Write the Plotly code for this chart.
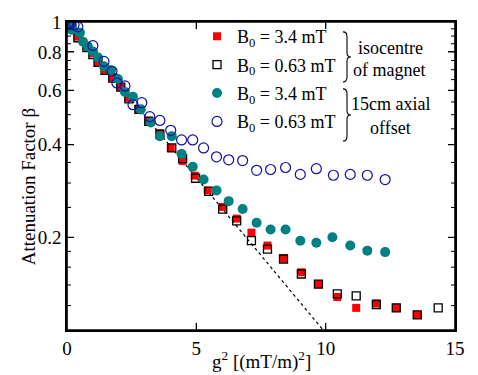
import math
import plotly.graph_objects as go

# ---- data ----
red_x = [0.04, 0.12, 0.42, 0.77, 1.00, 1.20, 1.50, 1.77, 2.08, 2.39, 2.78, 3.16, 3.59, 4.01, 4.47,
         4.94, 5.44, 6.02, 6.56, 7.13, 7.75, 8.37, 9.06, 9.72, 10.45, 11.18, 11.96, 12.73, 13.54]
red_y = [0.985, 0.971, 0.896, 0.832, 0.790, 0.740, 0.697, 0.662, 0.615, 0.567, 0.520, 0.479, 0.435, 0.390, 0.354,
         0.317, 0.284, 0.251, 0.230, 0.207, 0.188, 0.171, 0.154, 0.141, 0.128, 0.118, 0.122, 0.118, 0.112]

blk_x = [0.04, 0.19, 0.42, 0.77, 1.00, 1.20, 1.47, 1.77, 2.08, 2.39, 2.78, 3.16, 3.59, 4.05, 4.47,
         4.97, 5.48, 6.02, 6.56, 7.13, 7.75, 8.37, 9.06, 9.72, 10.45, 11.18, 11.96, 12.73, 13.54, 14.35]
blk_y = [0.985, 0.957, 0.889, 0.826, 0.784, 0.740, 0.697, 0.658, 0.615, 0.563, 0.520, 0.476, 0.432, 0.390, 0.360,
         0.311, 0.282, 0.247, 0.226, 0.195, 0.183, 0.170, 0.152, 0.141, 0.131, 0.129, 0.121, 0.118, 0.112, 0.118]

teal_x = [0.04, 0.19, 0.50, 0.62, 0.81, 1.00, 1.20, 1.43, 1.70, 1.97, 2.24, 2.55, 2.85, 3.24, 3.59, 4.05,
          4.43, 4.86, 5.28, 5.78, 6.25, 6.79, 7.33, 7.87, 8.45, 9.02, 9.64, 10.26, 10.95, 11.61, 12.30]
teal_y = [0.985, 0.943, 0.922, 0.863, 0.832, 0.802, 0.767, 0.718, 0.697, 0.653, 0.593, 0.572, 0.520, 0.472, 0.426, 0.426,
          0.373, 0.339, 0.308, 0.284, 0.262, 0.247, 0.223, 0.212, 0.212, 0.195, 0.192, 0.200, 0.188, 0.181, 0.179]

blue_x = [0.04, 0.12, 0.27, 0.42, 1.00, 1.43, 1.74, 1.93, 2.24, 2.55, 2.89, 3.20, 3.59, 4.01, 4.43,
          4.86, 5.28, 5.78, 6.25, 6.79, 7.33, 7.87, 8.45, 9.02, 9.64, 10.30, 10.95, 11.61, 12.30]
blue_y = [0.993, 0.985, 0.978, 0.964, 0.838, 0.745, 0.692, 0.634, 0.620, 0.539, 0.547, 0.493, 0.479, 0.445, 0.414,
          0.414, 0.390, 0.365, 0.357, 0.355, 0.330, 0.332, 0.337, 0.320, 0.334, 0.318, 0.320, 0.318, 0.308]

fit_x = [0.0, 9.9]
fit_y = [1.0, 0.1]

x_range = [0, 15]
y_range_log = [-1, 0]
x_ticks = [0, 5, 10, 15]
y_ticks = [0.2, 0.4, 0.6, 0.8, 1.0]
y_ticktext = ["0.2", "0.4", "0.6", "0.8", "1"]
y_minor = [0.12, 0.14, 0.16, 0.18, 0.25, 0.3, 0.35, 0.45, 0.5, 0.55, 0.65, 0.7, 0.75, 0.85, 0.9, 0.95]

labels = ["B<sub>0</sub> = 3.4 mT", "B<sub>0</sub> = 0.63 mT", "B<sub>0</sub> = 3.4 mT", "B<sub>0</sub> = 0.63 mT"]

FONT = "Liberation Serif, Times New Roman, serif"
W, H = 478, 375
L, R, T, B = 67, 23, 17, 45
PW, PH = W - L - R, H - T - B


def px(x):
    return (x - L) / PW


def py(y):
    return (H - B - y) / PH


def xp(v):  # x data -> paper
    return (v - x_range[0]) / (x_range[1] - x_range[0])


def yp(v):  # y data (log axis) -> paper
    return (math.log10(v) - y_range_log[0]) / (y_range_log[1] - y_range_log[0])


fig = go.Figure()
fig.add_trace(go.Scatter(x=fit_x, y=fit_y, mode="lines", showlegend=False,
                         line=dict(color="black", width=1.2, dash="dot")))
fig.add_trace(go.Scatter(x=red_x, y=red_y, mode="markers", name=labels[0], legendgroup="a",
                         marker=dict(symbol="square", size=8, color="#ff0000", line=dict(width=0))))
fig.add_trace(go.Scatter(x=blk_x, y=blk_y, mode="markers", name=labels[1], legendgroup="b",
                         marker=dict(symbol="square-open", size=8, color="black", line=dict(width=1.3))))
fig.add_trace(go.Scatter(x=teal_x, y=teal_y, mode="markers", name=labels[2], legendgroup="c",
                         marker=dict(symbol="circle", size=10, color="#008080", line=dict(width=0))))
fig.add_trace(go.Scatter(x=blue_x, y=blue_y, mode="markers", name=labels[3], legendgroup="d",
                         marker=dict(symbol="circle-open", size=10, color="#1010a8", line=dict(width=1.2))))


def brace(x, y0, y1):
    ym = (y0 + y1) / 2
    pts = [
        f"M{px(x-4)},{py(y0)}",
        f"Q{px(x)},{py(y0)} {px(x)},{py(y0+5)}",
        f"L{px(x)},{py(ym-4)}",
        f"Q{px(x)},{py(ym)} {px(x+4)},{py(ym)}",
        f"Q{px(x)},{py(ym)} {px(x)},{py(ym+4)}",
        f"L{px(x)},{py(y1-5)}",
        f"Q{px(x)},{py(y1)} {px(x-4)},{py(y1)}",
    ]
    return " ".join(pts)


def y_tick_path(vals, length):
    dx = length / PW
    segs = []
    for v in vals:
        y = yp(v)
        segs.append(f"M0,{y} L{dx},{y}")
        segs.append(f"M1,{y} L{1-dx},{y}")
    return " ".join(segs)


def x_tick_path(vals, length):
    dy = length / PH
    segs = []
    for v in vals:
        x = xp(v)
        segs.append(f"M{x},0 L{x},{dy}")
        segs.append(f"M{x},1 L{x},{1-dy}")
    return " ".join(segs)


shapes = [
    dict(type="path", xref="paper", yref="paper", path=brace(347, 27, 78),
         line=dict(color="black", width=1.1)),
    dict(type="path", xref="paper", yref="paper", path=brace(347, 85, 138),
         line=dict(color="black", width=1.1)),
    dict(type="path", xref="paper", yref="paper", path=y_tick_path(y_ticks[:-1], 7),
         line=dict(color="black", width=1.3), layer="above"),
    dict(type="path", xref="paper", yref="paper", path=y_tick_path(y_minor, 4),
         line=dict(color="black", width=1.0), layer="above"),
    dict(type="path", xref="paper", yref="paper", path=x_tick_path(x_ticks[1:-1], 7),
         line=dict(color="black", width=1.3), layer="above"),
    dict(type="rect", xref="paper", yref="paper", x0=0, x1=1, y0=0, y1=1,
         line=dict(color="black", width=1.6), layer="above"),
]

ann_font = dict(family=FONT, size=18, color="black")


def ann(text, x, y, **kw):
    d = dict(text=text, x=px(x), y=py(y), xref="paper", yref="paper", showarrow=False,
             xanchor="center", yanchor="middle", font=ann_font)
    d.update(kw)
    return d


annotations = [
    ann("isocentre", 390, 43),
    ann("of magnet", 389, 66),
    ann("15cm axial", 390, 100),
    ann("offset", 390, 125),
    ann("Attenuation Factor β", 28, 185, textangle=-90, font=dict(family=FONT, size=19, color="black")),
    ann("g<sup>2</sup> [(mT/m)<sup>2</sup>]", 261, 361, font=dict(family=FONT, size=19, color="black")),
]

axis_common = dict(showgrid=False, zeroline=False, showline=True, linecolor="black", linewidth=1.6,
                   mirror="ticks", ticks="inside", tickcolor="black", tickwidth=1.3,
                   tickfont=dict(family=FONT, size=19, color="black"))

fig.update_layout(
    width=W, height=H,
    margin=dict(l=L, r=R, t=T, b=B),
    paper_bgcolor="white", plot_bgcolor="white",
    font=dict(family=FONT, size=18, color="black"),
    showlegend=True,
    legend=dict(x=px(197), y=py(13), xanchor="left", yanchor="top", bgcolor="rgba(0,0,0,0)",
                font=dict(family=FONT, size=18, color="black"), tracegroupgap=2, itemwidth=30),
    xaxis=dict(range=x_range, tickvals=x_ticks, ticklen=7, **axis_common),
    yaxis=dict(type="log", range=y_range_log, tickvals=y_ticks, ticktext=y_ticktext, ticklen=7,
               **axis_common),
    shapes=shapes,
    annotations=annotations,
)

fig.write_html("out.html", config={"displayModeBar": False},
               post_script="document.body.style.margin='0';")
